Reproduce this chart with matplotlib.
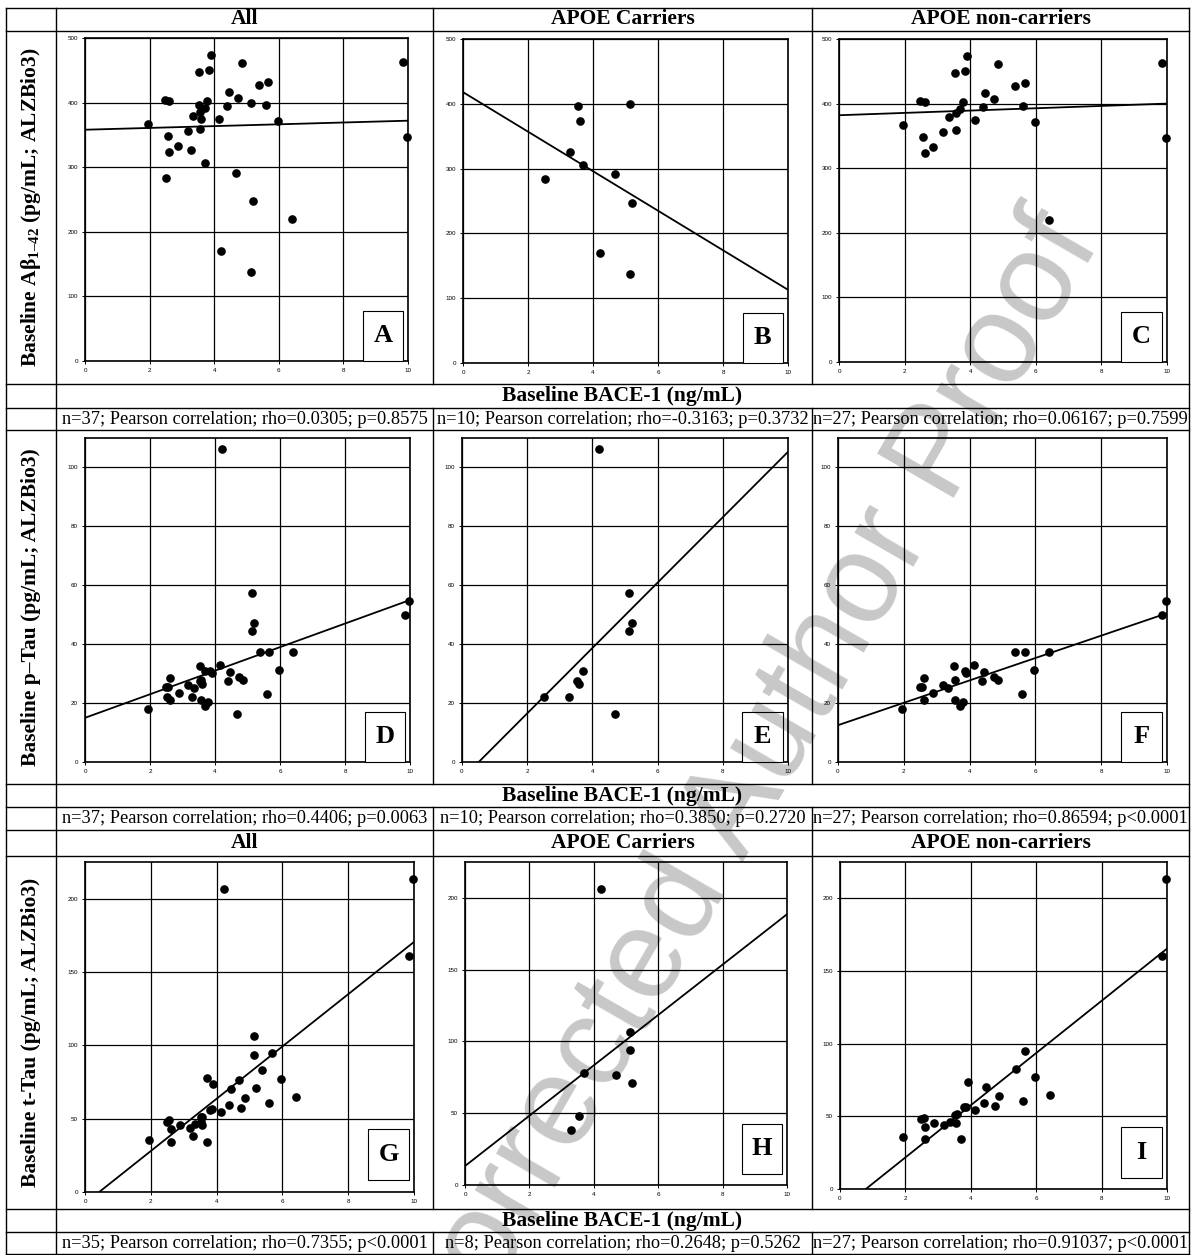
import numpy as np
import matplotlib
matplotlib.use("Agg")
import matplotlib.pyplot as plt
from matplotlib.patches import Rectangle

# BACE-1 for the 37 subjects, with the matching CSF markers (ALZBio3)
bace = [1.94, 2.48, 2.61, 2.56, 2.61, 2.51, 2.88, 3.18, 3.29, 3.35, 3.53, 3.54, 3.57,
        3.59, 3.56, 3.70, 3.70, 3.79, 3.85, 3.90, 4.14, 4.21, 4.39, 4.45, 4.68, 4.74,
        4.86, 5.13, 5.13, 5.20, 5.38, 5.60, 5.67, 5.97, 6.41, 9.85, 9.98]
abeta = [367, 404, 403, 348, 323, 284, 333, 356, 326, 379, 448, 397, 385, 374, 359, 391,
         306, 403, 451, 474, 374, 170, 394, 416, 291, 407, 461, 400, 137, 247, 427, 397,
         432, 372, 220, 463, 347]
ptau = [18.1, 25.3, 28.6, 25.3, 21.2, 22.0, 23.4, 26.3, 22.2, 25.2, 32.5, 27.5, 27.8,
        26.6, 21.2, 19.0, 30.9, 20.4, 31.0, 30.3, 33.0, 106.2, 27.4, 30.6, 16.3, 28.8,
        28.0, 57.5, 44.4, 47.2, 37.3, 23.1, 37.3, 31.4, 37.3, 50.0, 54.6]
ttau = [35.5, 47.9, 42.9, 48.8, 34.3, np.nan, 45.6, 43.8, 38.5, 46.1, 51.2, 47.8, 51.4,
        np.nan, 45.4, 34.3, 78.0, 56.2, 56.7, 73.7, 54.4, 206.3, 59.4, 70.0, 76.6, 57.1,
        64.3, 106.3, 93.7, 71.2, 82.9, 60.4, 94.9, 77.2, 64.5, 160.6, 213.4]
apoe_carrier = [0, 0, 0, 0, 0, 1, 0, 0, 1, 0, 0, 1, 0, 1, 0, 0, 1, 0, 0, 0, 0, 1, 0, 0,
                1, 0, 0, 1, 1, 1, 0, 0, 0, 0, 0, 0, 0]

# regression lines: value at BACE-1 = 0 and at BACE-1 = 10
fit_abeta = [(358, 372), (418, 113), (382, 400)]
fit_ptau = [(15, 55), (-5.7, 105.3), (12.5, 50.5)]
fit_ttau = [(-7.7, 170.5), (13.2, 188.6), (-14.2, 165.4)]

groups = ["All", "APOE Carriers", "APOE non-carriers"]
ylabels = ["Baseline A\u03b2$_{1\u201242}$ (pg/mL; ALZBio3)",
           "Baseline p\u2013Tau (pg/mL; ALZBio3)",
           "Baseline t-Tau (pg/mL; ALZBio3)"]
xlabel = "Baseline BACE-1 (ng/mL)"
stats = [["n=37; Pearson correlation; rho=0.0305; p=0.8575",
          "n=10; Pearson correlation; rho=-0.3163; p=0.3732",
          "n=27; Pearson correlation; rho=0.06167; p=0.7599"],
         ["n=37; Pearson correlation; rho=0.4406; p=0.0063",
          "n=10; Pearson correlation; rho=0.3850; p=0.2720",
          "n=27; Pearson correlation; rho=0.86594; p<0.0001"],
         ["n=35; Pearson correlation; rho=0.7355; p<0.0001",
          "n=8; Pearson correlation; rho=0.2648; p=0.5262",
          "n=27; Pearson correlation; rho=0.91037; p<0.0001"]]
letters = ["ABC", "DEF", "GHI"]

plt.rcParams['mathtext.default'] = 'regular'

W, H = 1196, 1255
fig = plt.figure(figsize=(W / 100, H / 100), dpi=100)

bg = fig.add_axes([0, 0, 1, 1])
bg.set_xlim(0, W)
bg.set_ylim(H, 0)
bg.axis('off')

serif = 'Liberation Serif'
L, C0, C1, C2, R = 6, 56, 433, 812, 1189

# table grid
for y in [8, 31, 384, 408, 430, 784, 807, 830, 856, 1209, 1232, 1254]:
    bg.plot([L, R], [y, y], color='black', lw=1.0)
for x in [L, C0, R]:
    bg.plot([x, x], [8, 1255], color='black', lw=1.0)
for x in [C1, C2]:
    for y0, y1 in [(8, 384), (408, 784), (807, 1209), (1232, 1255)]:
        bg.plot([x, x], [y0, y1], color='black', lw=1.0)

centers = [(C0 + C1) / 2, (C1 + C2) / 2, (C2 + R) / 2]
for y in [19.5, 843]:
    for cx, g in zip(centers, groups):
        bg.text(cx, y, g, ha='center', va='center', family=serif,
                fontweight='bold', fontsize=15.5)
for y in [396, 796, 1221]:
    bg.text((C0 + R) / 2, y, xlabel, ha='center', va='center', family=serif,
            fontweight='bold', fontsize=15.5)
for y, row in zip([419, 818.5, 1244], stats):
    for cx, s in zip(centers, row):
        bg.text(cx, y, s, ha='center', va='center', family=serif, fontsize=13.2)
for y, lab in zip([207, 607, 1032], ylabels):
    bg.text(31, y, lab, ha='center', va='center', rotation=90, family=serif,
            fontweight='bold', fontsize=15.5)

# panel boxes in pixels: left, top, right, bottom
boxes = [[(85, 38, 408, 361), (463, 39, 788, 363), (839, 39, 1167, 362)],
         [(85, 438, 410, 762), (462, 438, 788, 762), (838, 438, 1167, 762)],
         [(85, 862, 414, 1192), (465, 862, 787, 1185), (840, 862, 1167, 1189)]]
ymax = [500, 110, 225]
yticks = [np.arange(0, 501, 100), np.arange(0, 101, 20), np.arange(0, 201, 50)]
box_y = [0.0, 0.0, 0.035]

x_all = np.array(bace)
carr = np.array(apoe_carrier) == 1
masks = [np.ones(len(bace), bool), carr, ~carr]
series = [np.array(abeta, float), np.array(ptau, float), np.array(ttau, float)]
fits = [fit_abeta, fit_ptau, fit_ttau]

for r in range(3):
    for c in range(3):
        x0, y0, x1, y1 = boxes[r][c]
        ax = fig.add_axes([x0 / W, 1 - y1 / H, (x1 - x0) / W, (y1 - y0) / H])
        m = masks[c] & ~np.isnan(series[r])
        ax.plot(x_all[m], series[r][m], 'o', color='black', ms=5.2, zorder=3, clip_on=False)
        ax.plot([0, 10], fits[r][c], color='black', lw=1.3, zorder=2)
        ax.set_xlim(0, 10)
        ax.set_ylim(0, ymax[r])
        ax.set_xticks(np.arange(0, 11, 2))
        ax.set_yticks(yticks[r])
        ax.grid(True, color='black', lw=0.9)
        ax.set_axisbelow(True)
        for sp in ax.spines.values():
            sp.set_linewidth(1.2)
        ax.tick_params(labelsize=4.5, length=2.5, width=0.7, pad=2.5)
        for t in ax.get_xticklabels() + ax.get_yticklabels():
            t.set_family('Liberation Sans')
        ax.add_patch(Rectangle((0.86, box_y[r]), 0.125, 0.155, transform=ax.transAxes,
                               facecolor='white', edgecolor='black', lw=0.8,
                               zorder=5, clip_on=False))
        ax.text(0.86 + 0.0625, box_y[r] + 0.0775, letters[r][c], transform=ax.transAxes,
                ha='center', va='center', family=serif, fontweight='bold',
                fontsize=19, zorder=6)

# proof watermark
fig.text(741 / W, 1 - 866 / H, "Uncorrected Author Proof", rotation=60,
         rotation_mode='anchor', ha='center', va='baseline', fontsize=92,
         family='Liberation Sans', color='black', alpha=0.22, zorder=10)

fig.savefig("out.png", dpi=100)
